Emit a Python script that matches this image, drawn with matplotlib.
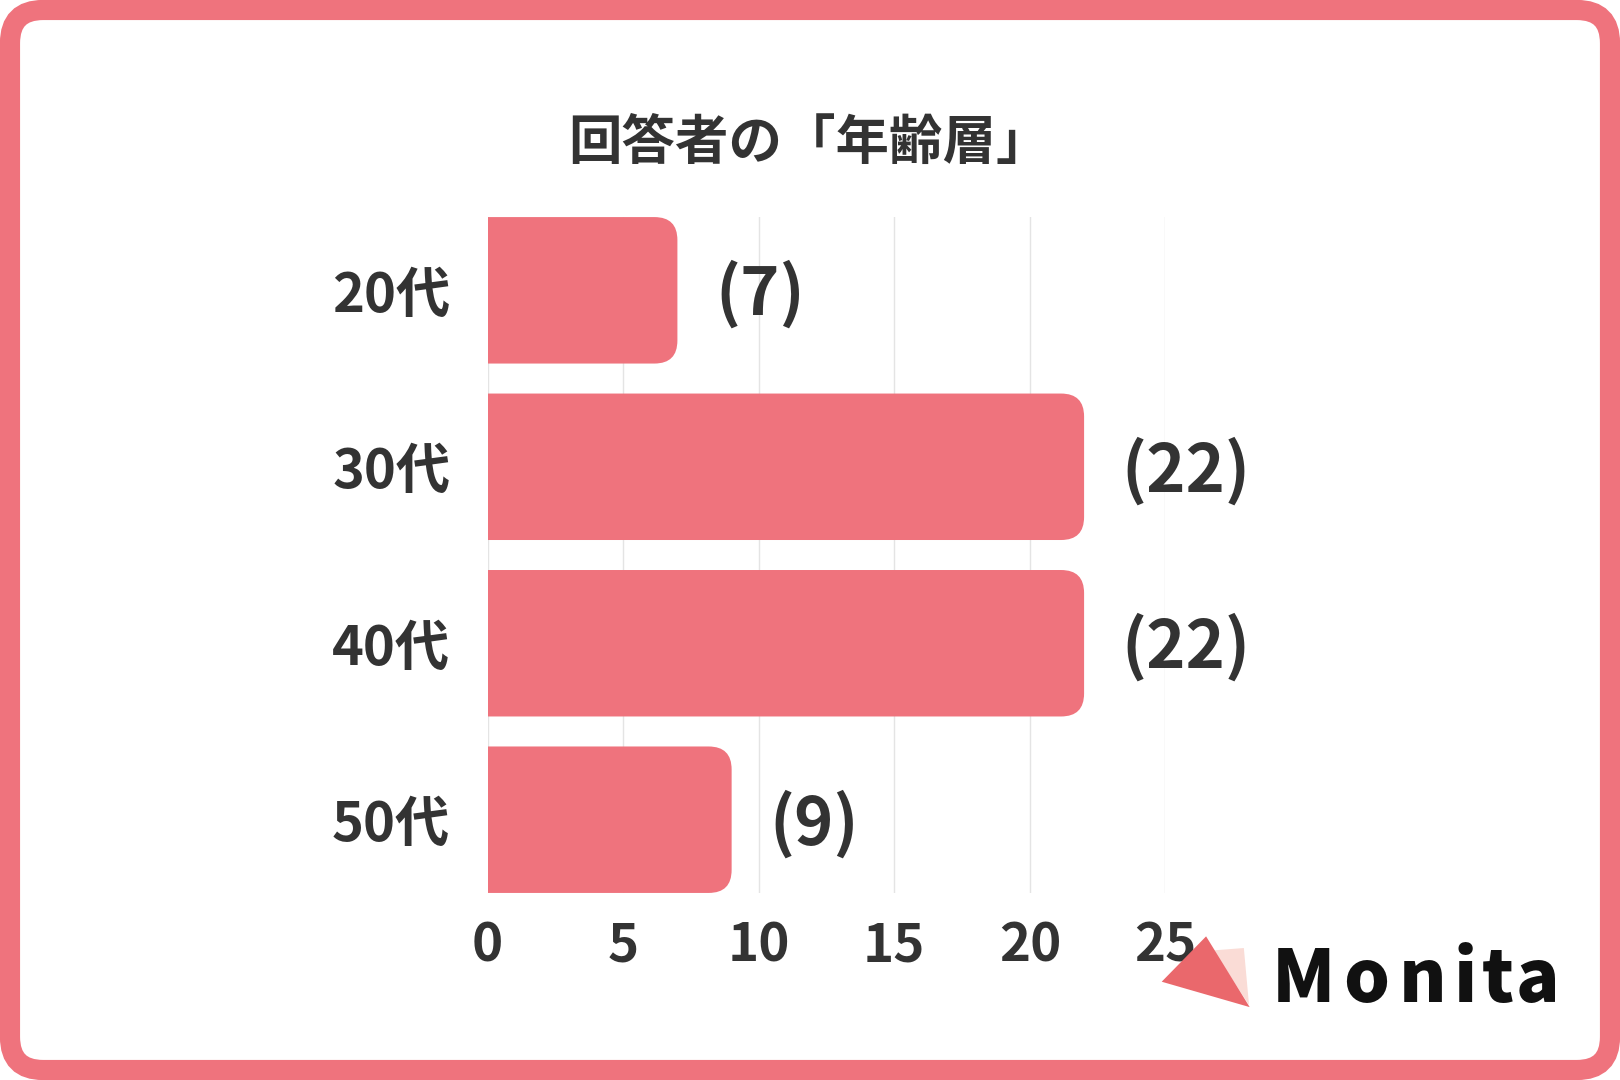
import numpy as np
import matplotlib
matplotlib.use("Agg")
import matplotlib.pyplot as plt
from matplotlib.patches import FancyBboxPatch, Polygon, PathPatch
from matplotlib.path import Path

plt.rcParams['font.family'] = ['Noto Sans CJK JP', 'DejaVu Sans']

# data
categories = ["20代", "30代", "40代", "50代"]
counts = [7, 22, 22, 9]
xticks = [0, 5, 10, 15, 20, 25]
title = "回答者の「年齢層」"

pink = "#EF737D"
txt = "#333333"

W, H = 16.2, 10.8
fig = plt.figure(figsize=(W, H), dpi=100)
fig.patch.set_facecolor("white")

# rounded pink frame
frame = FancyBboxPatch((0.1, 0.1), W - 0.2, H - 0.2,
                       boxstyle="round,pad=0,rounding_size=0.33",
                       transform=fig.dpi_scale_trans, fill=False,
                       edgecolor=pink, linewidth=14.5)
fig.patches.append(frame)

ax_pos = [0.3010, 0.1732, 0.4184, 0.6258]
ax = fig.add_axes(ax_pos)
bh = 0.83
y = np.arange(len(categories))
bars = ax.barh(y, counts, height=bh, color=pink, zorder=2)
ax.set_xlim(0, 25)
ax.set_ylim(len(categories) - 1 + bh / 2, -bh / 2)

# rounded right corners (one path per bar, taken from the bar geometry)
px_x = ax_pos[2] * W * 100 / 25
px_y = ax_pos[3] * H * 100 / (len(categories) - 1 + bh)
r_px = 23
rx, ry = r_px / px_x, r_px / px_y
for b in bars:
    x0, y0, w, h = b.get_x(), b.get_y(), b.get_width(), b.get_height()
    x1, y1 = x0 + w, y0 + h
    verts = [(x0, y0), (x1 - rx, y0), (x1, y0), (x1, y0 + ry),
             (x1, y1 - ry), (x1, y1), (x1 - rx, y1), (x0, y1), (x0, y0)]
    codes = [Path.MOVETO, Path.LINETO, Path.CURVE3, Path.CURVE3,
             Path.LINETO, Path.CURVE3, Path.CURVE3, Path.LINETO, Path.CLOSEPOLY]
    ax.add_patch(PathPatch(Path(verts, codes), facecolor=pink,
                           edgecolor="none", zorder=2))
    b.set_visible(False)

for yi, v in zip(y, counts):
    ax.annotate("(%d)" % v, (v, yi), xytext=(27, -3), textcoords="offset points",
                va="center", ha="left", fontsize=48, color=txt, fontweight="bold")

ax.set_xticks(xticks)
ax.set_xticklabels([str(t) for t in xticks], fontsize=38, fontweight="bold", color=txt)
ax.set_yticks(y)
ax.set_yticklabels(categories, fontsize=39, fontweight="bold", color=txt)
ax.tick_params(axis="x", length=0, pad=19)
ax.tick_params(axis="y", length=0, pad=27)
ax.grid(axis="x", color="#E4E4E4", linewidth=1, zorder=0)
ax.set_axisbelow(True)
for s in ax.spines.values():
    s.set_visible(False)

fig.text(0.4995, 0.867, title, ha="center", va="center", fontsize=38.5,
         fontweight="bold", color=txt)

# Monita logo
light = Polygon([(0.7490, 0.1200), (0.7678, 0.1222), (0.7710, 0.0695)],
                closed=True, transform=fig.transFigure, facecolor="#FADCD6",
                edgecolor="none")
dark = Polygon([(0.7171, 0.0910), (0.7445, 0.1330), (0.7714, 0.0675)],
               closed=True, transform=fig.transFigure, facecolor="#EA686C",
               edgecolor="none")
fig.patches.extend([light, dark])
letters = "Monita"
centers = [1262, 1322, 1377, 1418, 1450, 1488]
for ch, cx in zip(letters, centers):
    fig.text(cx / 1568, 0.072, ch, ha="center", va="baseline", fontsize=52,
             fontweight="black", color="#111111")

fig.savefig("out.png", dpi=100, facecolor="white")
